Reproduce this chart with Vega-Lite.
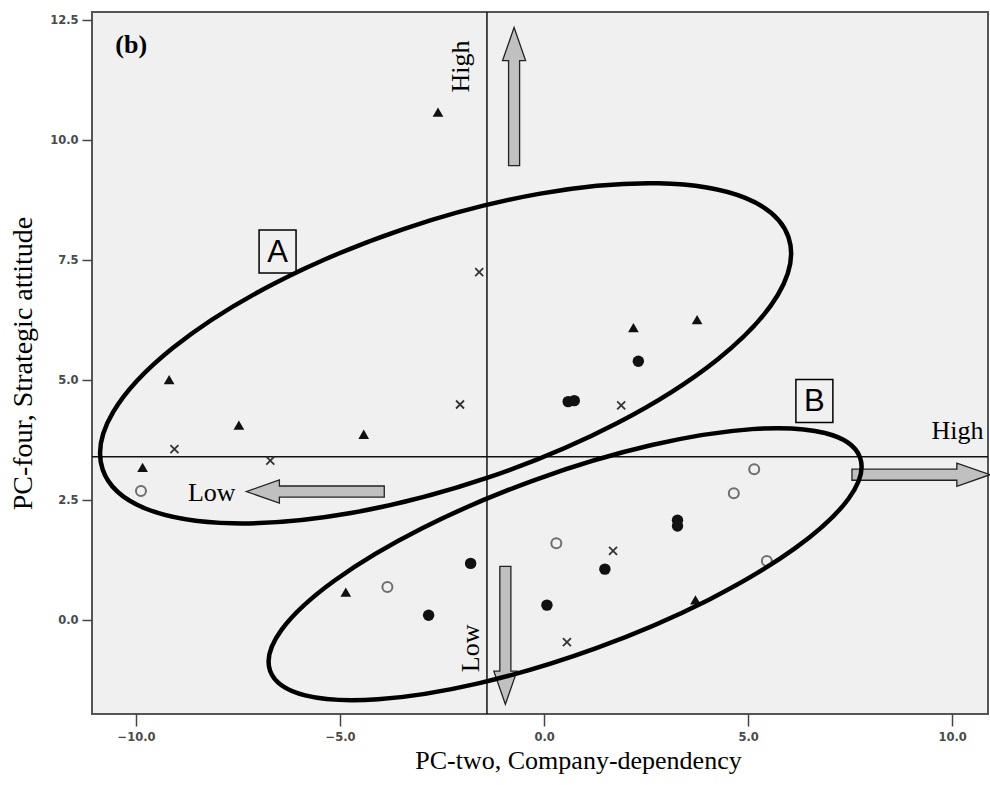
{
  "$schema": "https://vega.github.io/schema/vega-lite/v6.json",
  "autosize": {"type": "none"},
  "width": 896,
  "height": 702,
  "padding": {"left": 92, "top": 12, "right": 2, "bottom": 71},
  "background": "white",
  "config": {
    "view": {"fill": "#f0f0f0", "stroke": "#555555", "strokeWidth": 2},
    "axis": {
      "grid": false,
      "domain": false,
      "tickColor": "#444444",
      "tickWidth": 1.5,
      "labelFont": "DejaVu Sans",
      "labelFontSize": 11.5,
      "labelFontWeight": "bold",
      "labelColor": "#4a4a4a",
      "titleFont": "Liberation Serif",
      "titleFontWeight": "normal",
      "titleColor": "#000000"
    }
  },
  "datasets": {
    "companies": [
      {"series": "s1", "x": -2.60, "y": 10.58},
      {"series": "s1", "x": -9.19, "y": 5.01},
      {"series": "s1", "x": -7.48, "y": 4.06},
      {"series": "s1", "x": -4.42, "y": 3.87},
      {"series": "s1", "x": -9.84, "y": 3.18},
      {"series": "s1", "x": 2.19, "y": 6.09},
      {"series": "s1", "x": 3.75, "y": 6.26},
      {"series": "s1", "x": -4.86, "y": 0.58},
      {"series": "s1", "x": 3.71, "y": 0.42},
      {"series": "s2", "x": 2.31, "y": 5.39},
      {"series": "s2", "x": 0.59, "y": 4.55},
      {"series": "s2", "x": 0.74, "y": 4.57},
      {"series": "s2", "x": 3.27, "y": 2.08},
      {"series": "s2", "x": 3.27, "y": 1.96},
      {"series": "s2", "x": 1.49, "y": 1.06},
      {"series": "s2", "x": -1.80, "y": 1.18},
      {"series": "s2", "x": -2.83, "y": 0.10},
      {"series": "s2", "x": 0.07, "y": 0.31},
      {"series": "s3", "x": -9.88, "y": 2.69},
      {"series": "s3", "x": 5.15, "y": 3.14},
      {"series": "s3", "x": 4.65, "y": 2.64},
      {"series": "s3", "x": 0.30, "y": 1.60},
      {"series": "s3", "x": 5.46, "y": 1.23},
      {"series": "s3", "x": -3.84, "y": 0.69},
      {"series": "s4", "x": -1.59, "y": 7.25},
      {"series": "s4", "x": -2.06, "y": 4.49},
      {"series": "s4", "x": -9.06, "y": 3.56},
      {"series": "s4", "x": -6.71, "y": 3.32},
      {"series": "s4", "x": 1.89, "y": 4.47},
      {"series": "s4", "x": 1.69, "y": 1.44},
      {"series": "s4", "x": 0.56, "y": -0.46}
    ]
  },
  "encoding": {
    "x": {
      "field": "x",
      "type": "quantitative",
      "scale": {"domain": [-11.08, 10.88], "nice": false, "zero": false},
      "axis": {"values": [-10, -5, 0, 5, 10], "format": ".1f", "tickSize": 12, "labelPadding": 5, "title": "PC-two, Company-dependency", "titleFontSize": 26, "titlePadding": 5, "titleX": 486, "titleAlign": "center"}
    },
    "y": {
      "field": "y",
      "type": "quantitative",
      "scale": {"domain": [-1.958, 12.667], "nice": false, "zero": false},
      "axis": {"values": [0, 2.5, 5, 7.5, 10, 12.5], "format": ".1f", "tickSize": 10, "labelPadding": 4, "title": "PC-four, Strategic attitude", "titleFontSize": 28, "titlePadding": 12}
    }
  },
  "layer": [
    {
      "data": {"values": [{"x": -1.40}]},
      "mark": {"type": "rule", "color": "#111111", "strokeWidth": 1.5},
      "encoding": {"y": null}
    },
    {
      "data": {"values": [{"y": 3.40}]},
      "mark": {"type": "rule", "color": "#111111", "strokeWidth": 1.5},
      "encoding": {"x": null}
    },
    {
      "data": {"values": [
        {"x": -0.735, "y": 10.906, "heading": 0},
        {"x": -5.608, "y": 2.677, "heading": 270},
        {"x": -0.949, "y": -0.319, "heading": 180},
        {"x": 9.237, "y": 3.027, "heading": 90}
      ]},
      "mark": {
        "type": "point",
        "filled": true,
        "clip": false,
        "shape": "M0 -1 L0.167 -0.52 L0.08 -0.52 L0.08 1 L-0.08 1 L-0.08 -0.52 L-0.167 -0.52 Z",
        "size": 19044,
        "fill": "#c0c0c0",
        "stroke": "#222222",
        "strokeWidth": 1.3,
        "opacity": 1
      },
      "encoding": {"angle": {"field": "heading", "type": "quantitative", "scale": null}}
    },
    {
      "data": {"name": "companies"},
      "transform": [{"filter": "datum.series === 's1'"}],
      "mark": {"type": "point", "shape": "triangle-up", "filled": true, "size": 115, "color": "#111111", "opacity": 1}
    },
    {
      "data": {"name": "companies"},
      "transform": [{"filter": "datum.series === 's2'"}],
      "mark": {"type": "point", "shape": "circle", "filled": true, "size": 130, "color": "#111111", "opacity": 1}
    },
    {
      "data": {"name": "companies"},
      "transform": [{"filter": "datum.series === 's3'"}],
      "mark": {"type": "point", "shape": "circle", "filled": false, "size": 100, "color": "#6e6e6e", "strokeWidth": 2, "opacity": 1}
    },
    {
      "data": {"name": "companies"},
      "transform": [{"filter": "datum.series === 's4'"}],
      "mark": {"type": "point", "shape": "M-1 -1 L1 1 M-1 1 L1 -1", "filled": false, "size": 64, "color": "#333333", "strokeWidth": 1.8, "opacity": 1}
    },
    {
      "data": {"values": [{"cluster": "A", "x": -2.414, "y": 5.556}]},
      "mark": {
        "type": "point",
        "filled": false,
        "clip": false,
        "shape": "M0.8573 -0.2903 C0.9153 -0.1186 0.5788 0.1505 0.1052 0.3108 C-0.3683 0.4710 -0.7993 0.4620 -0.8573 0.2903 C-0.9153 0.1186 -0.5788 -0.1505 -0.1052 -0.3108 C0.3683 -0.4710 0.7993 -0.4620 0.8573 -0.2903 Z",
        "size": 640000,
        "color": "#000000",
        "strokeWidth": 4.5,
        "opacity": 1
      }
    },
    {
      "data": {"values": [{"cluster": "B", "x": 0.515, "y": 1.163}]},
      "mark": {
        "type": "point",
        "filled": false,
        "clip": false,
        "shape": "M0.7373 -0.2670 C0.7793 -0.1508 0.4835 0.0629 0.0762 0.2104 C-0.3310 0.3580 -0.6953 0.3833 -0.7373 0.2670 C-0.7793 0.1508 -0.4835 -0.0629 -0.0762 -0.2104 C0.3310 -0.3580 0.6953 -0.3833 0.7373 -0.2670 Z",
        "size": 640000,
        "color": "#000000",
        "strokeWidth": 4.5,
        "opacity": 1
      }
    },
    {
      "data": {"values": [
        {"cluster": "A", "x": -6.532, "y": 7.677},
        {"cluster": "B", "x": 6.625, "y": 4.5625}
      ]},
      "layer": [
        {
          "mark": {
            "type": "point",
            "filled": false,
            "shape": "M-0.86 -1 L0.86 -1 L0.86 1 L-0.86 1 Z",
            "size": 1849,
            "color": "#000000",
            "strokeWidth": 1.5,
            "opacity": 1
          }
        },
        {
          "mark": {"type": "text", "font": "Liberation Sans", "fontSize": 31, "color": "#000000", "baseline": "middle", "align": "center", "dy": 1},
          "encoding": {"text": {"field": "cluster"}}
        }
      ]
    },
    {
      "data": {"values": [
        {"x": -8.145, "y": 2.64, "label": "Low"},
        {"x": 10.13, "y": 3.94, "label": "High"}
      ]},
      "mark": {"type": "text", "font": "Liberation Serif", "fontSize": 26, "color": "#000000", "baseline": "middle", "align": "center", "clip": false},
      "encoding": {"text": {"field": "label"}}
    },
    {
      "data": {"values": [
        {"x": -2.034, "y": 11.53, "label": "High"},
        {"x": -1.80, "y": -0.59, "label": "Low"}
      ]},
      "mark": {"type": "text", "font": "Liberation Serif", "fontSize": 26, "color": "#000000", "baseline": "middle", "align": "center", "angle": 270},
      "encoding": {"text": {"field": "label"}}
    },
    {
      "data": {"values": [{"x": -10.12, "y": 11.98, "label": "(b)"}]},
      "mark": {"type": "text", "font": "Liberation Serif", "fontSize": 26, "fontWeight": "bold", "color": "#000000", "baseline": "middle", "align": "center"},
      "encoding": {"text": {"field": "label"}}
    }
  ]
}
